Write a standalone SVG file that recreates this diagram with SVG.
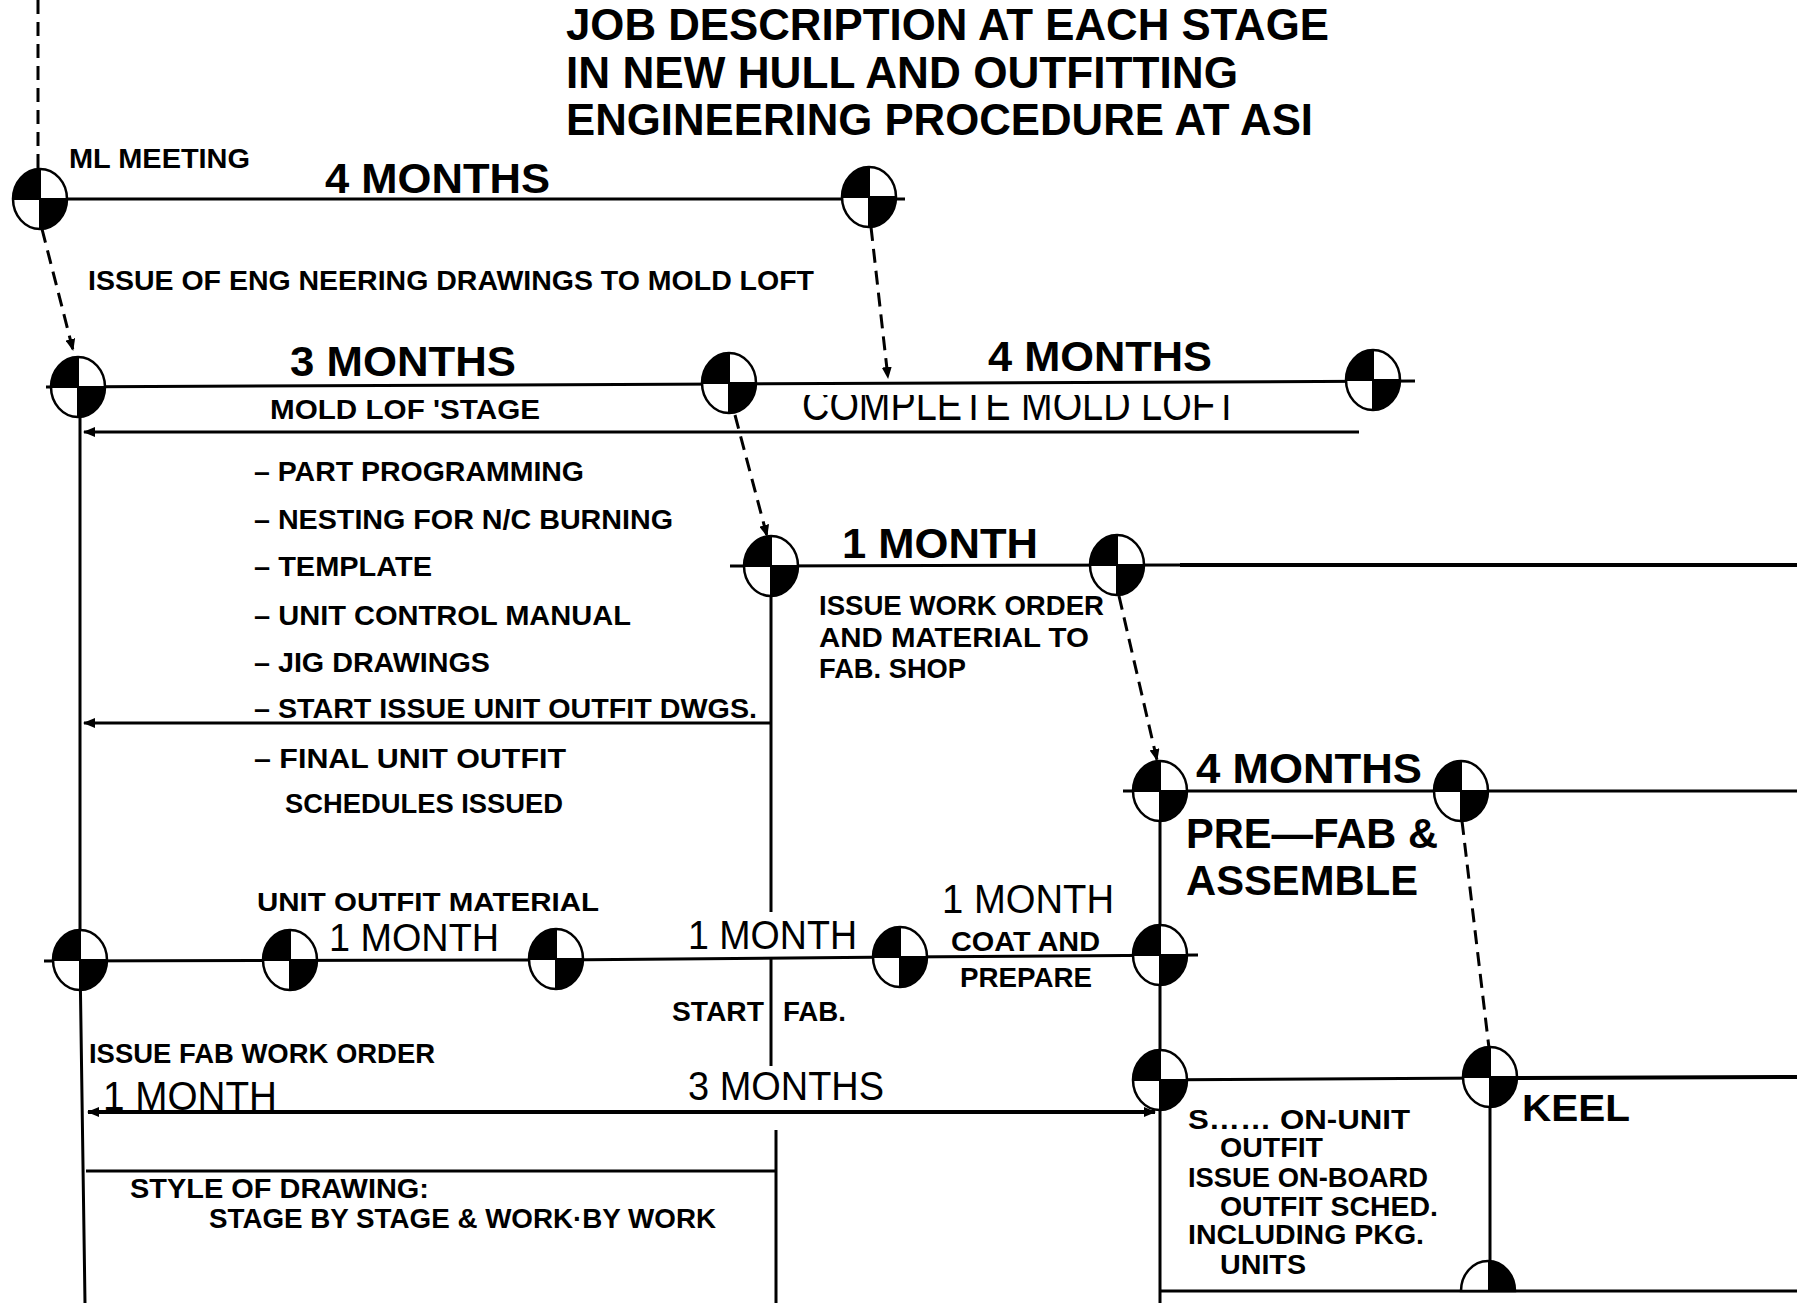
<svg xmlns="http://www.w3.org/2000/svg" width="1797" height="1303" viewBox="0 0 1797 1303">
<style>
.t{font-family:"Liberation Sans Narrow","Liberation Sans",Arial,sans-serif;fill:#000}
.b{font-weight:bold}
.s{font-size:28px;font-weight:bold}
.m{font-size:40px}
.h{font-size:42px;font-weight:bold}
.ln{stroke:#000;stroke-width:3;fill:none}
.lw{stroke:#000;stroke-width:4;fill:none}
.dl{stroke:#000;stroke-width:3;fill:none;stroke-dasharray:14 8}
</style>
<defs>
<marker id="ah" viewBox="0 0 12 10" refX="11" refY="5" markerWidth="12" markerHeight="10" markerUnits="userSpaceOnUse" orient="auto">
<path d="M0,0 L12,5 L0,10 Z" fill="#000"/>
</marker>
<g id="ms">
<ellipse cx="0" cy="0" rx="27" ry="30" fill="#fff" stroke="#000" stroke-width="2.5"/>
<path d="M0,0 L0,-30 A27,30 0 0,0 -27,0 Z" fill="#000"/>
<path d="M0,0 L0,30 A27,30 0 0,0 27,0 Z" fill="#000"/>
<path d="M-27,0 H27 M0,-30 V30" stroke="#000" stroke-width="2"/>
</g>
<clipPath id="cl1"><rect x="780" y="395" width="520" height="40"/></clipPath>
</defs>
<rect width="1797" height="1303" fill="#fff"/>

<g id="connectors">
<path class="dl" d="M38,0 V170"/>
<path class="ln" d="M40,199 H905"/>
<path class="dl" d="M42,229 L73,350" marker-end="url(#ah)"/>
<path class="dl" d="M871,227 L888,378" marker-end="url(#ah)"/>
<path class="ln" d="M46,387 L729,384 L1415,381"/>
<path class="ln" d="M1359,432 H84" marker-end="url(#ah)"/>
<path class="ln" d="M80,387 L80,960 L85,1303"/>
<path class="dl" d="M735,415 L767,536" marker-end="url(#ah)"/>
<path class="ln" d="M730,566 L1180,565"/>
<path class="lw" d="M1180,565 H1797"/>
<path class="ln" d="M771,566 V912 M771,958 V1066 M776,1130 V1303"/>
<path class="ln" d="M771,723 H84" marker-end="url(#ah)"/>
<path class="dl" d="M1119,596 L1157,760" marker-end="url(#ah)"/>
<path class="ln" d="M1123,791 H1797"/>
<path class="ln" d="M1160,791 V1303"/>
<path class="dl" d="M1462,821 L1489,1048"/>
<path class="ln" d="M44,961 L556,960 L900,957 L1198,955"/>
<path class="lw" d="M1155,1112 H88" marker-end="url(#ah)"/>
<path class="lw" d="M100,1112 H1155" marker-end="url(#ah)"/>
<path class="ln" d="M1135,1080 L1490,1078"/>
<path class="lw" d="M1490,1078 L1797,1077"/>
<path class="ln" d="M1490,1077 V1291"/>
<path class="ln" d="M1161,1291 H1797"/>
<path class="ln" d="M86,1171 H776"/>
</g>

<g id="m1"><use href="#ms" x="40" y="199"/></g>
<g id="m2"><use href="#ms" x="869" y="197"/></g>
<g id="m3"><use href="#ms" x="78" y="387"/></g>
<g id="m4"><use href="#ms" x="729" y="383"/></g>
<g id="m5"><use href="#ms" x="1373" y="380"/></g>
<g id="m6"><use href="#ms" x="771" y="566"/></g>
<g id="m7"><use href="#ms" x="1117" y="565"/></g>
<g id="m8"><use href="#ms" x="1160" y="791"/></g>
<g id="m9"><use href="#ms" x="1461" y="791"/></g>
<g id="m10"><use href="#ms" x="80" y="960"/></g>
<g id="m11"><use href="#ms" x="290" y="960"/></g>
<g id="m12"><use href="#ms" x="556" y="959"/></g>
<g id="m13"><use href="#ms" x="900" y="957"/></g>
<g id="m14"><use href="#ms" x="1160" y="955"/></g>
<g id="m15"><use href="#ms" x="1160" y="1080"/></g>
<g id="m16"><use href="#ms" x="1490" y="1077"/></g>
<g id="m17">
<path d="M1461,1291 A27,30 0 0,1 1515,1291 Z" fill="#fff" stroke="#000" stroke-width="2.5"/>
<path d="M1488,1291 V1261 A27,30 0 0,1 1515,1291 Z" fill="#000"/>
</g>

<g id="title" class="t b" font-size="44">
<text x="566" y="40" textLength="763" lengthAdjust="spacingAndGlyphs">JOB DESCRIPTION AT EACH STAGE</text>
<text x="566" y="88" textLength="672" lengthAdjust="spacingAndGlyphs">IN NEW HULL AND OUTFITTING</text>
<text x="566" y="135" textLength="747" lengthAdjust="spacingAndGlyphs">ENGINEERING PROCEDURE AT ASI</text>
</g>

<g id="labels-top" class="t">
<text class="s" x="69" y="168" textLength="181" lengthAdjust="spacingAndGlyphs">ML MEETING</text>
<text class="h" x="325" y="193" textLength="225" lengthAdjust="spacingAndGlyphs">4 MONTHS</text>
<text class="s" x="88" y="290" textLength="726" lengthAdjust="spacingAndGlyphs">ISSUE OF ENG NEERING DRAWINGS TO MOLD LOFT</text>
<text class="h" x="290" y="376" textLength="226" lengthAdjust="spacingAndGlyphs">3 MONTHS</text>
<text class="h" x="988" y="371" textLength="224" lengthAdjust="spacingAndGlyphs">4 MONTHS</text>
<text class="b" x="270" y="419" font-size="27" textLength="270" lengthAdjust="spacingAndGlyphs">MOLD LOF  'STAGE</text>
<text x="802" y="420" font-size="44" textLength="436" lengthAdjust="spacingAndGlyphs" clip-path="url(#cl1)">COMPLETE MOLD LOFT</text>
</g>

<g id="list" class="t s">
<text x="254" y="481" textLength="330" lengthAdjust="spacingAndGlyphs">– PART PROGRAMMING</text>
<text x="254" y="529" textLength="419" lengthAdjust="spacingAndGlyphs">– NESTING FOR N/C BURNING</text>
<text x="254" y="576" textLength="178" lengthAdjust="spacingAndGlyphs">– TEMPLATE</text>
<text x="254" y="625" textLength="377" lengthAdjust="spacingAndGlyphs">– UNIT CONTROL MANUAL</text>
<text x="254" y="672" textLength="236" lengthAdjust="spacingAndGlyphs">– JIG DRAWINGS</text>
<text x="254" y="718" textLength="503" lengthAdjust="spacingAndGlyphs">– START ISSUE UNIT OUTFIT DWGS.</text>
<text x="254" y="768" textLength="312" lengthAdjust="spacingAndGlyphs">– FINAL UNIT OUTFIT</text>
<text x="285" y="813" textLength="278" lengthAdjust="spacingAndGlyphs">SCHEDULES ISSUED</text>
</g>

<g id="labels-mid" class="t">
<text class="h" x="842" y="558" textLength="196" lengthAdjust="spacingAndGlyphs">1 MONTH</text>
<text class="s" x="819" y="615" textLength="285" lengthAdjust="spacingAndGlyphs">ISSUE WORK ORDER</text>
<text class="s" x="819" y="647" textLength="270" lengthAdjust="spacingAndGlyphs">AND MATERIAL TO</text>
<text class="s" x="819" y="678" textLength="147" lengthAdjust="spacingAndGlyphs">FAB. SHOP</text>
<text class="h" x="1196" y="783" textLength="226" lengthAdjust="spacingAndGlyphs">4 MONTHS</text>
<text class="b" font-size="43" x="1186" y="848" textLength="252" lengthAdjust="spacingAndGlyphs">PRE—FAB &amp;</text>
<text class="b" font-size="43" x="1186" y="895" textLength="232" lengthAdjust="spacingAndGlyphs">ASSEMBLE</text>
</g>

<g id="labels-low" class="t">
<text class="b" font-size="26" x="257" y="911" textLength="342" lengthAdjust="spacingAndGlyphs">UNIT OUTFIT MATERIAL</text>
<text x="329" y="951" font-size="38" textLength="170" lengthAdjust="spacingAndGlyphs">1 MONTH</text>
<text class="m" x="688" y="949" textLength="169" lengthAdjust="spacingAndGlyphs">1 MONTH</text>
<text class="m" x="942" y="913" textLength="172" lengthAdjust="spacingAndGlyphs">1 MONTH</text>
<text class="s" x="951" y="951" textLength="149" lengthAdjust="spacingAndGlyphs">COAT AND</text>
<text class="s" x="960" y="987" textLength="132" lengthAdjust="spacingAndGlyphs">PREPARE</text>
<text class="s" x="672" y="1021" textLength="92" lengthAdjust="spacingAndGlyphs">START</text>
<text class="s" x="783" y="1021" textLength="63" lengthAdjust="spacingAndGlyphs">FAB.</text>
<text class="s" x="89" y="1063" textLength="346" lengthAdjust="spacingAndGlyphs">ISSUE FAB WORK ORDER</text>
<text class="m" x="103" y="1110" textLength="174" lengthAdjust="spacingAndGlyphs">1 MONTH</text>
<text class="m" x="688" y="1100" textLength="196" lengthAdjust="spacingAndGlyphs">3 MONTHS</text>
<text class="b" font-size="37" x="1522" y="1121" textLength="108" lengthAdjust="spacingAndGlyphs">KEEL</text>
</g>

<g id="block-keel" class="t s">
<text x="1188" y="1129" textLength="222" lengthAdjust="spacingAndGlyphs">S…… ON-UNIT</text>
<text x="1220" y="1157" textLength="103" lengthAdjust="spacingAndGlyphs">OUTFIT</text>
<text x="1188" y="1187" textLength="240" lengthAdjust="spacingAndGlyphs">ISSUE ON-BOARD</text>
<text x="1220" y="1216" textLength="218" lengthAdjust="spacingAndGlyphs">OUTFIT SCHED.</text>
<text x="1188" y="1244" textLength="236" lengthAdjust="spacingAndGlyphs">INCLUDING PKG.</text>
<text x="1220" y="1274" textLength="86" lengthAdjust="spacingAndGlyphs">UNITS</text>
</g>

<g id="block-style" class="t b" font-size="27">
<text x="130" y="1198" textLength="299" lengthAdjust="spacingAndGlyphs">STYLE OF DRAWING:</text>
<text x="209" y="1228" textLength="507" lengthAdjust="spacingAndGlyphs">STAGE BY STAGE &amp; WORK·BY WORK</text>
</g>
</svg>
